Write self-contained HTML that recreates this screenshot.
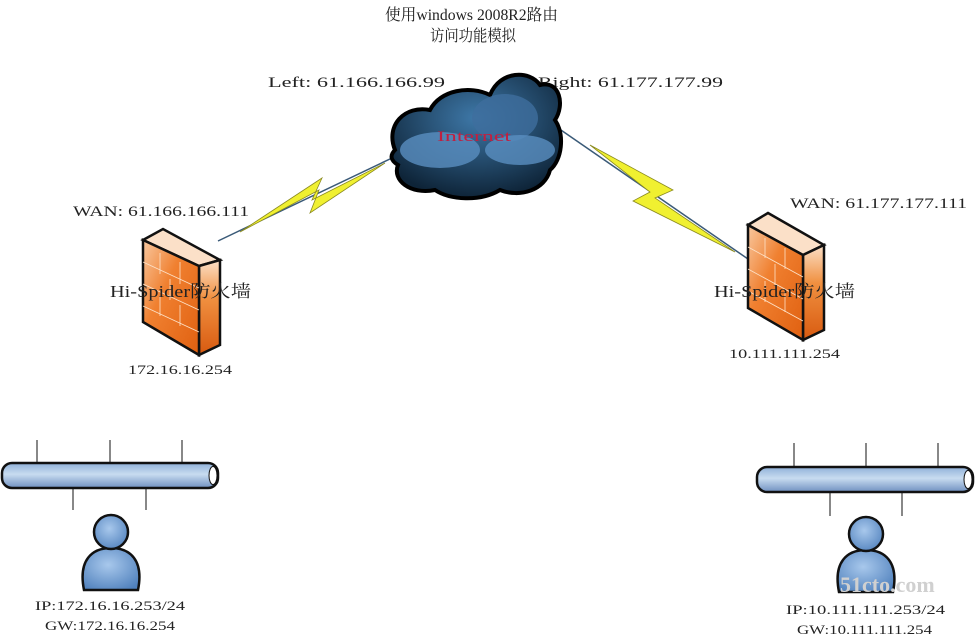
<!DOCTYPE html>
<html><head><meta charset="utf-8"><style>
html,body{margin:0;padding:0;background:#fff;}
svg{display:block;}
text{font-family:"Liberation Serif","Noto Serif CJK SC",serif;fill:#222;}
</style></head><body>
<svg width="976" height="640" viewBox="0 0 976 640" xmlns="http://www.w3.org/2000/svg">
<defs>
<linearGradient id="fw" x1="0" y1="0" x2="1" y2="1">
<stop offset="0" stop-color="#f8c8a0"/><stop offset="0.4" stop-color="#f08030"/><stop offset="1" stop-color="#e06010"/>
</linearGradient>
<linearGradient id="fws" x1="0" y1="0" x2="0" y2="1">
<stop offset="0" stop-color="#fbe0c8"/><stop offset="0.4" stop-color="#f09040"/><stop offset="1" stop-color="#d85a10"/>
</linearGradient>
<linearGradient id="pipe" x1="0" y1="0" x2="0" y2="1">
<stop offset="0" stop-color="#8fb0d8"/><stop offset="0.45" stop-color="#c8dcf0"/><stop offset="1" stop-color="#6f90c0"/>
</linearGradient>
<radialGradient id="usr" cx="0.45" cy="0.4" r="0.7">
<stop offset="0" stop-color="#a8c8ec"/><stop offset="1" stop-color="#4f80bc"/>
</radialGradient>
<radialGradient id="cloud" cx="0.5" cy="0.35" r="0.65">
<stop offset="0" stop-color="#3e78a8"/><stop offset="1" stop-color="#0e2438"/>
</radialGradient>
</defs>

<text x="385" y="20" font-size="16" textLength="173" lengthAdjust="spacingAndGlyphs">使用windows 2008R2路由</text>
<text x="430" y="41" font-size="16" textLength="86" lengthAdjust="spacingAndGlyphs">访问功能模拟</text>
<text x="268" y="87" font-size="15" textLength="177" lengthAdjust="spacingAndGlyphs">Left: 61.166.166.99</text>
<text x="538" y="87" font-size="15" textLength="185" lengthAdjust="spacingAndGlyphs">Right: 61.177.177.99</text>

<!-- left bolt -->
<line x1="218" y1="241" x2="392" y2="158" stroke="#3a5a78" stroke-width="1.5"/>
<polygon points="240,232 322,178 312,200 385,163 310,213 319,190" fill="#f0f030" stroke="#8a8a20" stroke-width="0.8"/>
<!-- right bolt -->
<line x1="558" y1="128" x2="748" y2="259" stroke="#3a5a78" stroke-width="1.5"/>
<polygon points="590,145 673,190 655,198 735,252 633,201 650,192" fill="#f0f030" stroke="#8a8a20" stroke-width="0.8"/>

<!-- cloud -->
<path d="M395,150 C385,125 405,105 430,110 C440,90 470,85 490,95 C500,70 530,70 540,85 C560,80 565,105 555,120 C565,135 562,160 550,170 C545,190 520,198 500,190 C480,202 450,200 435,190 C410,195 392,180 398,165 C390,160 390,155 395,150 Z" fill="url(#cloud)" stroke="#000" stroke-width="4"/>
<ellipse cx="440" cy="150" rx="40" ry="18" fill="#5a8ec0" opacity="0.8"/>
<ellipse cx="505" cy="118" rx="33" ry="24" fill="#3e6e9e" opacity="0.8"/>
<ellipse cx="520" cy="150" rx="35" ry="15" fill="#5a8ec0" opacity="0.8"/>
<text x="437" y="141" font-size="15" textLength="74" lengthAdjust="spacingAndGlyphs" style="fill:#c02040">Internet</text>

<!-- left firewall -->
<polygon points="143,240 163,229 220,260 199,266" fill="#fbe0c8" stroke="#111" stroke-width="2.5"/>
<polygon points="199,266 220,260 220,345 199,355" fill="url(#fws)" stroke="#111" stroke-width="2.5"/>
<polygon points="143,240 199,266 199,355 143,322" fill="url(#fw)" stroke="#111" stroke-width="2.5"/>
<g stroke="#fde2c8" stroke-width="0.8" fill="none">
<path d="M143,262 L199,288 M143,284 L199,310 M143,306 L199,332"/>
<path d="M160,253 L160,274 M180,262 L180,284 M160,296 L160,316 M180,305 L180,326 M170,279 L170,300"/>
</g>
<text x="73" y="216" font-size="15" textLength="176" lengthAdjust="spacingAndGlyphs">WAN: 61.166.166.111</text>
<text x="110" y="297" font-size="17" textLength="141" lengthAdjust="spacingAndGlyphs">Hi-Spider防火墙</text>
<text x="128" y="374" font-size="13" textLength="104" lengthAdjust="spacingAndGlyphs">172.16.16.254</text>

<!-- right firewall -->
<polygon points="748,225 768,213 824,245 803,255" fill="#fbe0c8" stroke="#111" stroke-width="2.5"/>
<polygon points="803,255 824,245 824,330 803,340" fill="url(#fws)" stroke="#111" stroke-width="2.5"/>
<polygon points="748,225 803,255 803,340 748,308" fill="url(#fw)" stroke="#111" stroke-width="2.5"/>
<g stroke="#fde2c8" stroke-width="0.8" fill="none">
<path d="M748,247 L803,277 M748,269 L803,299 M748,291 L803,321"/>
<path d="M765,238 L765,258 M785,248 L785,269 M765,281 L765,302 M785,291 L785,312 M775,264 L775,286"/>
</g>
<text x="790" y="208" font-size="15" textLength="177" lengthAdjust="spacingAndGlyphs">WAN: 61.177.177.111</text>
<text x="714" y="297" font-size="17" textLength="141" lengthAdjust="spacingAndGlyphs">Hi-Spider防火墙</text>
<text x="729" y="358" font-size="13" textLength="111" lengthAdjust="spacingAndGlyphs">10.111.111.254</text>

<!-- LAN -->
<g stroke="#111" stroke-width="1">
<line x1="37" y1="440" x2="37" y2="464"/><line x1="110" y1="440" x2="110" y2="464"/><line x1="182" y1="440" x2="182" y2="464"/>
<line x1="73" y1="488" x2="73" y2="510"/><line x1="146" y1="488" x2="146" y2="510"/>
<line x1="794" y1="443" x2="794" y2="468"/><line x1="866" y1="443" x2="866" y2="468"/><line x1="938" y1="443" x2="938" y2="468"/>
<line x1="830" y1="492" x2="830" y2="516"/><line x1="902" y1="492" x2="902" y2="516"/>
</g>
<rect x="2" y="463" width="216" height="25" rx="10" fill="url(#pipe)" stroke="#111" stroke-width="2.5"/>
<ellipse cx="213" cy="475.5" rx="4" ry="9" fill="#fff" stroke="#111" stroke-width="1"/>
<rect x="757" y="467" width="216" height="25" rx="10" fill="url(#pipe)" stroke="#111" stroke-width="2.5"/>
<ellipse cx="968" cy="479.5" rx="4" ry="9" fill="#fff" stroke="#111" stroke-width="1"/>

<!-- users -->
<g stroke="#111" stroke-width="2.5">
<path d="M84,590 C78,560 92,548 111,548 C130,548 144,560 138,590 Z" fill="url(#usr)"/>
<circle cx="111" cy="532" r="17" fill="url(#usr)"/>
<path d="M839,592 C833,562 847,550 866,550 C885,550 899,562 893,592 Z" fill="url(#usr)"/>
<circle cx="866" cy="534" r="17" fill="url(#usr)"/>
</g>
<text x="35" y="610" font-size="13" textLength="150" lengthAdjust="spacingAndGlyphs">IP:172.16.16.253/24</text>
<text x="45" y="630" font-size="13" textLength="130" lengthAdjust="spacingAndGlyphs">GW:172.16.16.254</text>
<text x="786" y="614" font-size="13" textLength="159" lengthAdjust="spacingAndGlyphs">IP:10.111.111.253/24</text>
<text x="797" y="634" font-size="13" textLength="135" lengthAdjust="spacingAndGlyphs">GW:10.111.111.254</text>
<text x="840" y="592" font-size="22" style="fill:#d0d0d0" font-weight="bold">51cto.com</text>
</svg>
</body></html>
